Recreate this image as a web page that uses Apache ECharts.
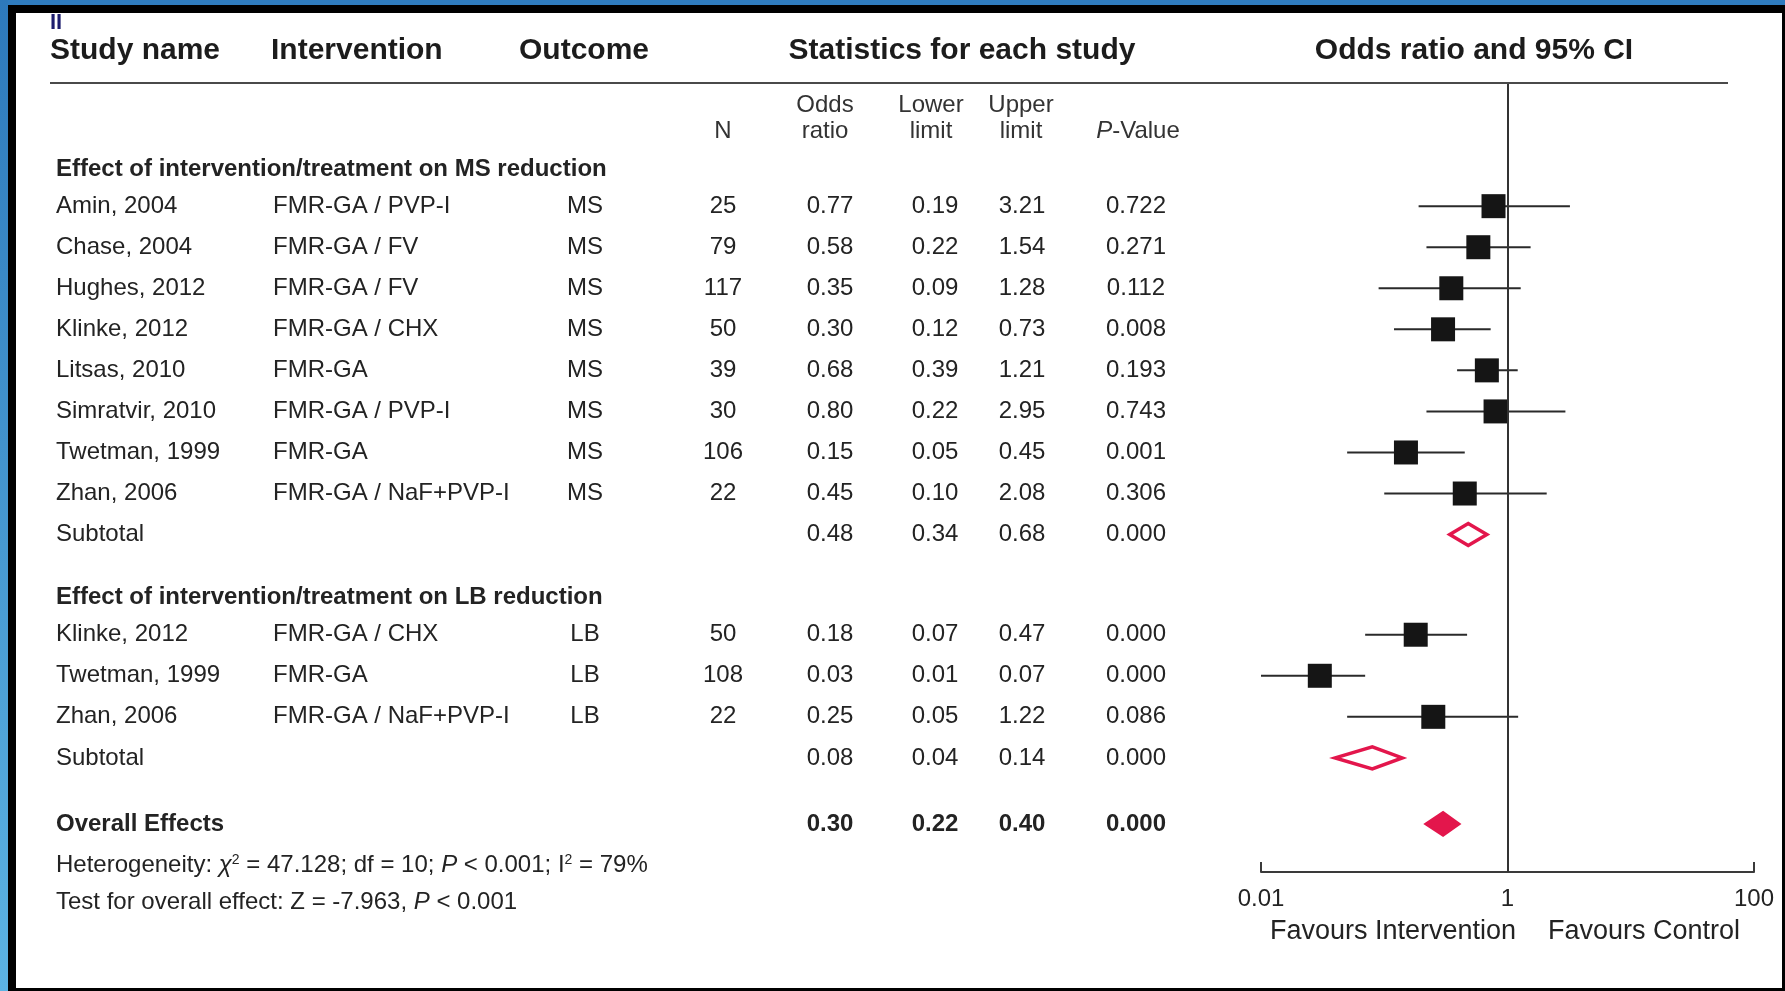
<!DOCTYPE html>
<html>
<head>
<meta charset="utf-8">
<title>Forest plot – FMR-GA interventions</title>
<script src="https://cdn.jsdelivr.net/npm/echarts@6/dist/echarts.min.js"></script>
<style>
  html, body { margin: 0; padding: 0; background: #fff; }
  #chart { width: 1785px; height: 991px; }
</style>
</head>
<body>
<div id="chart"></div>
<script>
// ---- Study data: effect of intervention/treatment on MS reduction ----
const msStudies      = ['Amin, 2004', 'Chase, 2004', 'Hughes, 2012', 'Klinke, 2012', 'Litsas, 2010', 'Simratvir, 2010', 'Twetman, 1999', 'Zhan, 2006'];
const msInterventions = ['FMR-GA / PVP-I', 'FMR-GA / FV', 'FMR-GA / FV', 'FMR-GA / CHX', 'FMR-GA', 'FMR-GA / PVP-I', 'FMR-GA', 'FMR-GA / NaF+PVP-I'];
const msN     = [25, 79, 117, 50, 39, 30, 106, 22];
const msOR    = [0.77, 0.58, 0.35, 0.30, 0.68, 0.80, 0.15, 0.45];
const msLower = [0.19, 0.22, 0.09, 0.12, 0.39, 0.22, 0.05, 0.10];
const msUpper = [3.21, 1.54, 1.28, 0.73, 1.21, 2.95, 0.45, 2.08];
const msP     = [0.722, 0.271, 0.112, 0.008, 0.193, 0.743, 0.001, 0.306];
const msSubtotal = { or: 0.48, lower: 0.34, upper: 0.68, p: 0.000 };

// ---- Study data: effect of intervention/treatment on LB reduction ----
const lbStudies      = ['Klinke, 2012', 'Twetman, 1999', 'Zhan, 2006'];
const lbInterventions = ['FMR-GA / CHX', 'FMR-GA', 'FMR-GA / NaF+PVP-I'];
const lbN     = [50, 108, 22];
const lbOR    = [0.18, 0.03, 0.25];
const lbLower = [0.07, 0.01, 0.05];
const lbUpper = [0.47, 0.07, 1.22];
const lbP     = [0.000, 0.000, 0.086];
const lbSubtotal = { or: 0.08, lower: 0.04, upper: 0.14, p: 0.000 };

// ---- Pooled result ----
const overall = { or: 0.30, lower: 0.22, upper: 0.40, p: 0.000 };

// ---- Axis ticks (odds ratio, log scale) ----
const xTicks = [0.01, 1, 100];

// ---- Row layout (row units along the hidden y axis) ----
const layout = {
  yMin: -2.976, yMax: 16.22,
  msHeader: -0.89,
  msRows: [0, 1, 2, 3, 4, 5, 6, 7],
  msSub: 8,
  lbHeader: 9.52,
  lbRows: [10.44, 11.44, 12.44],
  lbSub: 13.44,
  overall: 15.05,
  hetero: 16.05,
  test: 16.97
};

const FONT = '"Liberation Sans", Arial, Helvetica, sans-serif';
const INK = '#232323';
const RED = '#e3164c';

const chart = echarts.init(document.getElementById('chart'), null, { renderer: 'canvas', width: 1785, height: 991 });

// rows with CI whiskers and squares
const studyRows = [];
msStudies.forEach((s, i) => studyRows.push([msOR[i], msLower[i], msUpper[i], layout.msRows[i]]));
lbStudies.forEach((s, i) => studyRows.push([lbOR[i], lbLower[i], lbUpper[i], layout.lbRows[i]]));

const diamondRows = [
  [msSubtotal.or, msSubtotal.lower, msSubtotal.upper, layout.msSub, 0],
  [lbSubtotal.or, lbSubtotal.lower, lbSubtotal.upper, layout.lbSub, 0],
  [overall.or, overall.lower, overall.upper, layout.overall, 1]
];

const option = {
  backgroundColor: '#ffffff',
  animation: false,
  grid: { left: 1261, right: 31, top: 84, bottom: 119, containLabel: false },
  xAxis: {
    type: 'log', logBase: 10, min: xTicks[0], max: xTicks[xTicks.length - 1], interval: 2,
    axisLine: { show: true, onZero: false, lineStyle: { color: '#3a3a3a', width: 2 } },
    axisTick: { show: true, inside: true, length: 10, lineStyle: { color: '#3a3a3a', width: 2 } },
    minorTick: { show: false },
    splitLine: { show: false },
    axisLabel: {
      color: INK, fontFamily: FONT, fontSize: 24, margin: 15,
      formatter: v => {
        const e = Math.round(Math.log10(v));
        return e < 0 ? Math.pow(10, e).toFixed(-e) : String(Math.round(Math.pow(10, e)));
      }
    }
  },
  yAxis: { type: 'value', inverse: true, min: layout.yMin, max: layout.yMax, show: false },
  series: [
    {
      // confidence-interval whiskers
      type: 'custom',
      data: studyRows,
      encode: { x: [1, 2], y: 3 },
      renderItem: (params, api) => {
        const a = api.coord([api.value(1), api.value(3)]);
        const b = api.coord([api.value(2), api.value(3)]);
        return { type: 'line', shape: { x1: a[0], y1: a[1], x2: b[0], y2: b[1] },
                 style: { stroke: '#2a2a2a', lineWidth: 2 } };
      },
      z: 3
    },
    {
      // study point estimates
      type: 'scatter',
      data: studyRows.map(r => [r[0], r[3]]),
      symbol: 'rect', symbolSize: 24,
      itemStyle: { color: '#151515', opacity: 1 },
      z: 4,
      markLine: {
        silent: true, symbol: 'none', label: { show: false },
        lineStyle: { color: '#333', width: 2, type: 'solid' },
        data: [{ xAxis: 1 }]
      }
    },
    {
      // pooled estimates as diamonds
      type: 'custom',
      data: diamondRows,
      encode: { x: [1, 2], y: 3 },
      renderItem: (params, api) => {
        const y = api.value(3);
        const lo = api.coord([api.value(1), y]);
        const mid = api.coord([api.value(0), y]);
        const hi = api.coord([api.value(2), y]);
        const h = 11;
        const filled = api.value(4) === 1;
        return { type: 'polygon',
                 shape: { points: [[lo[0], mid[1]], [mid[0], mid[1] - h], [hi[0], mid[1]], [mid[0], mid[1] + h]] },
                 style: { fill: filled ? RED : '#ffffff', stroke: RED, lineWidth: 3.5, lineJoin: 'miter' } };
      },
      z: 5
    }
  ]
};

chart.setOption(option);

const rowY = r => chart.convertToPixel({ yAxisIndex: 0 }, r);

function txt(x, y, text, opts) {
  opts = opts || {};
  const size = opts.size || 24;
  const weight = opts.bold ? 'bold ' : '';
  const style = {
    text: text, x: 0, y: 0,
    font: (opts.italic ? 'italic ' : '') + weight + size + 'px ' + FONT,
    fill: opts.color || INK,
    align: opts.align || 'left', verticalAlign: 'middle',
    textAlign: opts.align || 'left', textVerticalAlign: 'middle'
  };
  if (opts.rich) style.rich = opts.rich;
  return { type: 'text', x: x, y: y, silent: true, z: 10, style: style };
}

const cols = { study: 56, interv: 273, outcome: 585, n: 723, or: 830, lo: 935, hi: 1022, p: 1136 };
const f2 = v => v.toFixed(2);
const f3 = v => v.toFixed(3);

const g = [];

// frame around the panel
g.push({ type: 'rect', shape: { x: 0, y: 0, width: 1785, height: 13 }, style: { fill: '#000' }, z: 20, silent: true });
g.push({ type: 'rect', shape: { x: 0, y: 0, width: 1785, height: 5 }, style: { fill: '#2f7cbf' }, z: 21, silent: true });
g.push({ type: 'rect', shape: { x: 0, y: 0, width: 16, height: 991 }, style: { fill: '#000' }, z: 20, silent: true });
g.push({ type: 'rect', shape: { x: 0, y: 0, width: 8, height: 991 },
         style: { fill: new echarts.graphic.LinearGradient(0, 0, 0, 1, [{ offset: 0, color: '#2d79bb' }, { offset: 1, color: '#5cb3e3' }]) },
         z: 21, silent: true });
g.push({ type: 'rect', shape: { x: 1782, y: 0, width: 3, height: 991 }, style: { fill: '#000' }, z: 20, silent: true });
g.push({ type: 'rect', shape: { x: 0, y: 988, width: 1785, height: 3 }, style: { fill: '#000' }, z: 20, silent: true });

// panel label
g.push(txt(50, 23, 'II', { size: 22, bold: true, color: '#1d1d6e' }));

// column titles
g.push(txt(50, 51, 'Study name', { size: 30, bold: true, color: '#1c1c1c' }));
g.push(txt(271, 51, 'Intervention', { size: 30, bold: true, color: '#1c1c1c' }));
g.push(txt(519, 51, 'Outcome', { size: 30, bold: true, color: '#1c1c1c' }));
g.push(txt(962, 51, 'Statistics for each study', { size: 30, bold: true, color: '#1c1c1c', align: 'center' }));
g.push(txt(1474, 51, 'Odds ratio and 95% CI', { size: 30, bold: true, color: '#1c1c1c', align: 'center' }));

// rule under the titles
g.push({ type: 'line', shape: { x1: 50, y1: 83, x2: 1728, y2: 83 }, style: { stroke: '#4a4a4a', lineWidth: 2 }, z: 10, silent: true });

// statistic sub-headers
const subColor = '#333';
g.push(txt(cols.n, 131, 'N', { align: 'center', color: subColor }));
g.push(txt(825, 105, 'Odds', { align: 'center', color: subColor }));
g.push(txt(825, 131, 'ratio', { align: 'center', color: subColor }));
g.push(txt(931, 105, 'Lower', { align: 'center', color: subColor }));
g.push(txt(931, 131, 'limit', { align: 'center', color: subColor }));
g.push(txt(1021, 105, 'Upper', { align: 'center', color: subColor }));
g.push(txt(1021, 131, 'limit', { align: 'center', color: subColor }));
g.push(txt(1138, 131, '{i|P}-Value', { align: 'center', color: subColor,
  rich: { i: { font: 'italic 24px ' + FONT, fill: subColor } } }));

function studyLine(y, name, interv, outcome, n, or, lo, hi, p) {
  g.push(txt(cols.study, y, name));
  g.push(txt(cols.interv, y, interv));
  g.push(txt(cols.outcome, y, outcome, { align: 'center' }));
  g.push(txt(cols.n, y, String(n), { align: 'center' }));
  g.push(txt(cols.or, y, f2(or), { align: 'center' }));
  g.push(txt(cols.lo, y, f2(lo), { align: 'center' }));
  g.push(txt(cols.hi, y, f2(hi), { align: 'center' }));
  g.push(txt(cols.p, y, f3(p), { align: 'center' }));
}
function pooledLine(y, label, s, bold) {
  g.push(txt(cols.study, y, label, { bold: bold }));
  g.push(txt(cols.or, y, f2(s.or), { align: 'center', bold: bold }));
  g.push(txt(cols.lo, y, f2(s.lower), { align: 'center', bold: bold }));
  g.push(txt(cols.hi, y, f2(s.upper), { align: 'center', bold: bold }));
  g.push(txt(cols.p, y, f3(s.p), { align: 'center', bold: bold }));
}

// MS block
g.push(txt(cols.study, rowY(layout.msHeader), 'Effect of intervention/treatment on MS reduction', { bold: true }));
msStudies.forEach((s, i) => studyLine(rowY(layout.msRows[i]), s, msInterventions[i], 'MS', msN[i], msOR[i], msLower[i], msUpper[i], msP[i]));
pooledLine(rowY(layout.msSub), 'Subtotal', msSubtotal, false);

// LB block
g.push(txt(cols.study, rowY(layout.lbHeader), 'Effect of intervention/treatment on LB reduction', { bold: true }));
lbStudies.forEach((s, i) => studyLine(rowY(layout.lbRows[i]), s, lbInterventions[i], 'LB', lbN[i], lbOR[i], lbLower[i], lbUpper[i], lbP[i]));
pooledLine(rowY(layout.lbSub), 'Subtotal', lbSubtotal, false);

// overall
pooledLine(rowY(layout.overall), 'Overall Effects', overall, true);

// heterogeneity and overall test
const richNotes = {
  i: { font: 'italic 24px ' + FONT, fill: INK },
  sup: { font: '14px ' + FONT, fill: INK, verticalAlign: 'top' }
};
g.push(txt(cols.study, rowY(layout.hetero),
  'Heterogeneity: {i|χ}{sup|2} = 47.128; df = 10; {i|P} < 0.001; I{sup|2} = 79%', { rich: richNotes }));
g.push(txt(cols.study, rowY(layout.test),
  'Test for overall effect: Z = -7.963, {i|P} < 0.001', { rich: richNotes }));

// direction captions under the axis
g.push(txt(1393, 932, 'Favours Intervention', { size: 27, align: 'center' }));
g.push(txt(1644, 932, 'Favours Control', { size: 27, align: 'center' }));

chart.setOption({ graphic: { elements: g } });
</script>
</body>
</html>
